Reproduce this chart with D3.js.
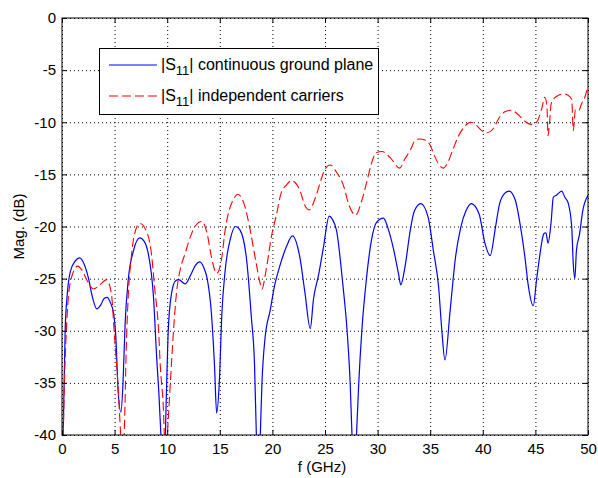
<!DOCTYPE html>
<html>
<head>
<meta http-equiv="Content-Type" content="text/html;charset=utf-8"/>
<script src="https://d3js.org/d3.v7.min.js"></script>
<style type="text/css">
body { margin: 0; background: #fff; }
svg { font-family: "Liberation Sans", Arial, sans-serif; }
.grid line { stroke: #000; stroke-dasharray: 1,3; stroke-width: 1; }
.grid path { display: none; }
.axis path { display: none; }
.axis line { stroke: #000; }
.axis text { font-size: 15px; fill: #000; }
</style>
</head>
<body>
<script>
// Chart size
var width = 598,
    height = 478,
    margin = {left: 62, top: 18, right: 10, bottom: 43};

var plotW = width - margin.left - margin.right,
    plotH = height - margin.top - margin.bottom;

// Tick values
var xTicks = [0, 5, 10, 15, 20, 25, 30, 35, 40, 45, 50];
var yTicks = [0, -5, -10, -15, -20, -25, -30, -35, -40];

// |S11| continuous ground plane (frequency GHz, dB)
var contFreq = [0.0, 0.15, 0.3, 0.5, 0.8, 1.2, 1.7, 2.1, 2.5, 2.9, 3.3, 3.7, 4.0, 4.3, 4.6, 4.9,
    5.1, 5.35, 5.6, 5.8, 6.0, 6.3, 6.8, 7.4, 7.8, 8.2, 8.7, 9.0, 9.2, 9.45, 9.7, 9.9,
    10.1, 10.4, 10.8, 11.1, 11.7, 12.3, 12.7, 13.1, 13.5, 13.8, 14.2, 14.5, 14.7, 14.95,
    15.2, 15.5, 16.0, 16.5, 16.9, 17.55, 18.0, 18.3, 18.5, 18.7, 18.85, 19.0, 19.3, 19.8,
    20.2, 20.7, 21.35, 21.9, 22.6, 23.1, 23.6, 23.9, 24.4, 24.85, 25.4, 25.7, 26.1, 26.7,
    27.1, 27.4, 27.6, 27.8, 27.95, 28.2, 28.5, 28.95, 29.4, 29.9, 30.55, 31.0, 31.5, 32.0,
    32.2, 32.6, 33.1, 33.5, 34.1, 34.8, 35.3, 35.8, 36.1, 36.4, 36.9, 37.4, 37.9, 38.4,
    38.9, 39.65, 40.2, 40.7, 41.2, 41.6, 42.1, 42.5, 43.1, 43.5, 44.0, 44.3, 44.8, 45.1,
    45.4, 45.8, 46.0, 46.2, 46.5, 46.7, 47.0, 47.5, 47.8, 48.1, 48.45, 48.6, 48.75, 48.9,
    49.2, 49.5, 50.0];
var contMag = [-45, -38, -30, -26.5, -24.3, -23.4, -23.0, -23.6, -24.9, -26.8, -27.9, -27.5, -26.9, -26.8, -27.3, -28.3,
    -30.3, -36, -37.8, -35, -29.3, -25.1, -22.3, -21.1, -21.4, -22.6, -26.8, -32.6, -35.8, -41, -45, -37,
    -30.0, -26.5, -25.2, -25.1, -25.5, -24.5, -23.7, -23.4, -24.0, -25.0, -28.3, -33.4, -37.9, -35,
    -28.3, -24.3, -21.2, -20.0, -20.3, -23.2, -28.7, -33.2, -41, -45, -40, -35.2, -30.7, -28.0,
    -25.7, -23.8, -21.9, -20.9, -22.9, -26.4, -29.8, -27, -24.6, -22.0, -19.0, -19.3, -20.4, -25.6,
    -30.0, -35.2, -41, -45, -41, -35.2, -30, -24.9, -21.4, -19.6, -19.2, -20.2, -22.1, -24.6,
    -25.6, -23.9, -20.4, -18.5, -17.8, -19.1, -22.3, -25.8, -29.9, -32.8, -28.0, -23.0, -20.1, -18.5,
    -17.8, -18.8, -21.6, -22.8, -20.1, -17.8, -16.8, -16.6, -17.5, -19.5, -22.9, -25.5, -27.6, -25.2,
    -22.9, -20.7, -20.6, -21.6, -19.5, -17.2, -17.0, -16.6, -17.2, -17.7, -20.0, -23.6, -25.0, -22.3,
    -20.7, -18.5, -17.0];

// |S11| independent carriers (frequency GHz, dB)
var indFreq = [0.05, 0.2, 0.35, 0.55, 0.9, 1.5, 1.9, 2.4, 3.0, 3.6, 4.25, 4.7, 5.0, 5.35, 5.55, 5.75,
    5.95, 6.1, 6.3, 6.6, 6.9, 7.4, 8.0, 8.5, 8.8, 9.2, 9.35, 9.6, 9.85, 10.1, 10.3, 10.6,
    10.9, 11.2, 11.7, 12.2, 12.7, 13.3, 13.8, 14.2, 14.7, 15.2, 15.5, 16.0, 16.3, 16.7,
    17.3, 17.9, 18.4, 18.8, 19.0, 19.4, 19.9, 20.4, 20.8, 21.35, 21.8, 22.6, 23.1, 23.5,
    24.1, 24.6, 25.0, 25.5, 26.1, 26.8, 27.2, 27.9, 28.5, 29.0, 29.4, 29.9, 30.4, 31.2,
    32.1, 32.6, 33.1, 33.6, 34.0, 34.5, 35.0, 35.4, 35.8, 36.25, 36.7, 37.2, 37.7, 38.2,
    38.6, 38.9, 39.4, 39.9, 40.4, 41.0, 41.6, 42.1, 42.7, 43.4, 44.0, 44.6, 45.1, 45.6,
    45.9, 46.1, 46.2, 46.35, 46.5, 46.9, 47.2, 47.65, 48.1, 48.45, 48.6, 48.8, 49.1, 49.4,
    49.7, 50.0];
var indMag = [-45, -36, -31.5, -27.5, -24.9, -23.8, -24.2, -25.2, -26.0, -25.6, -25.1, -26.5, -30.7, -35.6, -39.5, -43,
    -38.6, -32, -26.6, -22.8, -20.7, -19.7, -20.4, -22.6, -25.8, -30.3, -33.5, -36.7, -42, -38.5, -35, -30.0,
    -26.2, -24.3, -22.6, -21.0, -19.9, -19.5, -20.7, -22.9, -24.5, -22.9, -20.4, -18.1, -17.4, -16.9,
    -17.8, -20.4, -23.2, -25.3, -26.0, -24.2, -21.0, -18.8, -16.9, -16.0, -15.6, -16.5, -18.0, -18.4,
    -17.2, -15.6, -14.5, -14.1, -14.8, -16.2, -17.7, -18.9, -17.5, -15.6, -14.0, -12.9, -12.8, -13.4,
    -14.4, -13.5, -12.7, -11.7, -11.6, -11.7, -12.2, -13.2, -14.0, -14.4, -13.8, -12.5, -11.3, -10.5,
    -10.1, -10.0, -10.3, -10.8, -11.0, -10.6, -9.5, -9.0, -8.85, -9.3, -9.9, -10.2, -10.0, -8.7,
    -7.6, -8.5, -11.3, -10, -8.2, -7.6, -7.4, -7.3, -7.4, -7.8, -10.8, -8.8, -8.9, -8.2,
    -7.6, -6.5];

var x = d3.scaleLinear().domain([0, 50]).range([0, plotW]);
var y = d3.scaleLinear().domain([-40, 0]).range([plotH, 0]);

// plain hyphen for negative numbers, like the original
var fmt = function(d) { return String(d); };

var svg = d3.select("body")
            .append("svg")
            .attr("width", width)
            .attr("height", height);

var g = svg.append("g")
           .attr("transform", "translate(" + margin.left + "," + margin.top + ")");

// dotted grid
g.append("g")
 .attr("class", "grid")
 .attr("transform", "translate(0," + plotH + ")")
 .call(d3.axisBottom(x).tickValues(xTicks).tickSize(-plotH).tickFormat(""));

g.append("g")
 .attr("class", "grid")
 .call(d3.axisLeft(y).tickValues(yTicks).tickSize(-plotW).tickFormat(""));

// clip curves to the plot box
svg.append("defs").append("clipPath")
   .attr("id", "plotClip")
   .append("rect")
   .attr("width", plotW)
   .attr("height", plotH);

var line = d3.line()
             .x(function(d) { return x(d[0]); })
             .y(function(d) { return y(d[1]); })
             .curve(d3.curveMonotoneX);

var contData = contFreq.map(function(f, i) { return [f, contMag[i]]; });
var indData = indFreq.map(function(f, i) { return [f, indMag[i]]; });

var curves = g.append("g").attr("clip-path", "url(#plotClip)");

curves.append("path")
      .datum(contData)
      .attr("d", line)
      .style("fill", "none")
      .style("stroke", "#0000ff")
      .style("stroke-width", 1.2);

curves.append("path")
      .datum(indData)
      .attr("d", line)
      .style("fill", "none")
      .style("stroke", "#ff0000")
      .style("stroke-width", 1.1)
      .style("stroke-dasharray", "9,4");

// axes with inward ticks on all sides
g.append("g")
 .attr("class", "axis")
 .attr("transform", "translate(0," + plotH + ")")
 .call(d3.axisBottom(x).tickValues(xTicks).tickSize(-5).tickPadding(8).tickFormat(fmt));

g.append("g")
 .attr("class", "axis")
 .call(d3.axisTop(x).tickValues(xTicks).tickSize(-5).tickFormat(""));

g.append("g")
 .attr("class", "axis")
 .call(d3.axisLeft(y).tickValues(yTicks).tickSize(-5).tickPadding(6).tickFormat(fmt));

g.append("g")
 .attr("class", "axis")
 .attr("transform", "translate(" + plotW + ",0)")
 .call(d3.axisRight(y).tickValues(yTicks).tickSize(-5).tickFormat(""));

g.append("rect")
 .attr("width", plotW)
 .attr("height", plotH)
 .style("fill", "none")
 .style("stroke", "#000")
 .style("stroke-width", 1);

// axis labels
svg.append("text")
   .attr("x", 322)
   .attr("y", 472)
   .attr("text-anchor", "middle")
   .style("font-size", "15px")
   .text("f (GHz)");

svg.append("text")
   .attr("transform", "translate(24," + (margin.top + plotH / 2) + ") rotate(-90)")
   .attr("text-anchor", "middle")
   .style("font-size", "15px")
   .text("Mag. (dB)");

// legend
var legendNames = ["continuous ground plane", "independent carriers"];
var legendColors = ["#0000ff", "#ff0000"];
var legendDash = [null, "9,4"];

var legend = svg.append("g");

legend.append("rect")
      .attr("x", 99.5)
      .attr("y", 48.5)
      .attr("width", 279)
      .attr("height", 66)
      .style("fill", "#fff")
      .style("stroke", "#000");

legendNames.forEach(function(name, i) {
    var ly = 65 + i * 31;
    legend.append("line")
          .attr("x1", 109)
          .attr("x2", 157)
          .attr("y1", ly)
          .attr("y2", ly)
          .style("stroke", legendColors[i])
          .style("stroke-width", 1.2)
          .style("stroke-dasharray", legendDash[i]);

    var t = legend.append("text")
                  .attr("x", 161)
                  .attr("y", ly + 5)
                  .style("font-size", "16px");
    t.append("tspan").text("|S");
    t.append("tspan").attr("dy", 5).style("font-size", "13px").text("11");
    t.append("tspan").attr("dy", -5).text("| " + name);
});
</script>
</body>
</html>
